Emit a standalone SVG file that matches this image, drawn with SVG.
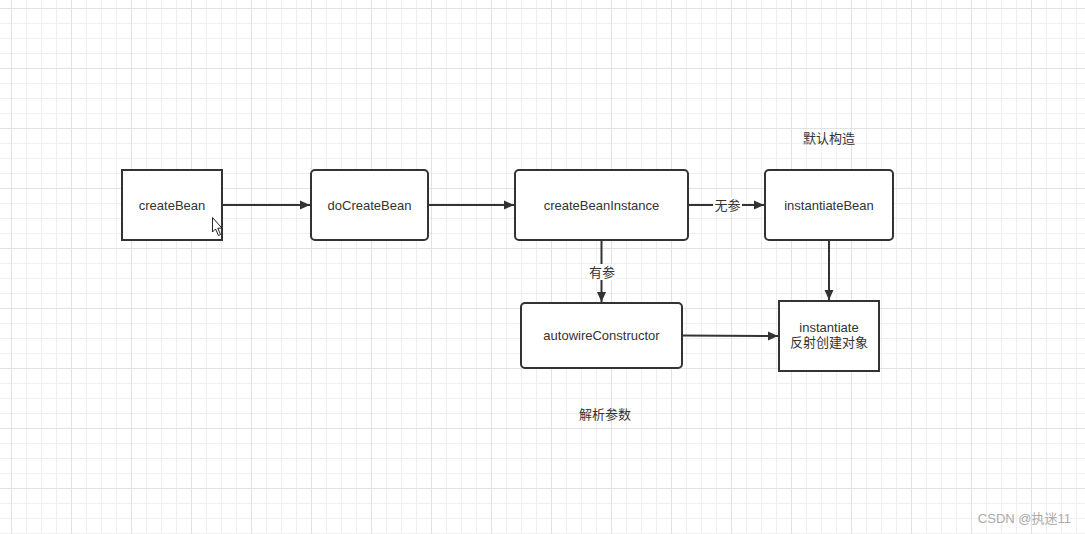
<svg xmlns="http://www.w3.org/2000/svg" width="1085" height="534" viewBox="0 0 1085 534">
<defs>
<pattern id="minor" x="11" y="8" width="15" height="15" patternUnits="userSpaceOnUse">
<path d="M0.5 0 V15 M0 0.5 H15" stroke="#efefef" stroke-width="1" fill="none"/>
</pattern>
<pattern id="major" x="11" y="8" width="60" height="60" patternUnits="userSpaceOnUse">
<path d="M0.5 0 V60 M0 0.5 H60" stroke="#e2e2e2" stroke-width="1" fill="none"/>
</pattern>
<marker id="arr" viewBox="0 0 10 10" refX="10" refY="5" markerWidth="10" markerHeight="10" markerUnits="userSpaceOnUse" orient="auto">
<path d="M0 0.5 L10 5 L0 9.5 Z" fill="#333"/>
</marker>
<style>
.box{fill:#fff;stroke:#333;stroke-width:2}
.lbl{font-family:"Liberation Sans","Noto Sans CJK SC",sans-serif;font-size:13px;fill:#333;text-anchor:middle}
.edge{stroke:#333;stroke-width:2;fill:none;marker-end:url(#arr)}
.elbl{font-family:"Liberation Sans","Noto Sans CJK SC",sans-serif;font-size:13px;fill:#333;text-anchor:middle}
</style>
</defs>
<rect width="1085" height="534" fill="#fff"/>
<rect width="1085" height="534" fill="url(#minor)"/>
<rect width="1085" height="534" fill="url(#major)"/>

<g id="connectors">
<path class="edge" d="M222 205 H310"/>
<path class="edge" d="M428 205 H514"/>
<path class="edge" d="M688 205 H764"/>
<rect x="713" y="197" width="29" height="16" fill="#fff"/>
<text class="elbl" x="727.5" y="209.5">无参</text>
<path class="edge" d="M601.5 240 V302"/>
<rect x="588" y="264" width="28" height="16" fill="#fff"/>
<text class="elbl" x="602" y="276.5">有参</text>
<path class="edge" d="M829 240 V300"/>
<path class="edge" d="M682 335.5 L778 336"/>
</g>

<g id="createBean">
<rect class="box" x="122" y="170" width="100" height="70"/>
<text class="lbl" x="172" y="209.5">createBean</text>
</g>
<g id="doCreateBean">
<rect class="box" x="311" y="170" width="117" height="70" rx="4"/>
<text class="lbl" x="369.5" y="209.5">doCreateBean</text>
</g>
<g id="createBeanInstance">
<rect class="box" x="515" y="170" width="173" height="70" rx="4"/>
<text class="lbl" x="601.5" y="209.5">createBeanInstance</text>
</g>
<g id="instantiateBean">
<rect class="box" x="765" y="170" width="128" height="70" rx="4"/>
<text class="lbl" x="829" y="209.5">instantiateBean</text>
</g>
<g id="autowireConstructor">
<rect class="box" x="521" y="303" width="161" height="65" rx="4"/>
<text class="lbl" x="601.5" y="340">autowireConstructor</text>
</g>
<g id="instantiate">
<rect class="box" x="779" y="301" width="100" height="70"/>
<text class="lbl" x="829" y="332">instantiate</text>
<text class="lbl" x="829" y="347">反射创建对象</text>
</g>

<g id="notes">
<text class="lbl" x="829" y="142.5">默认构造</text>
<text class="lbl" x="605" y="418.5">解析参数</text>
<text x="1071" y="523" font-family="'Liberation Sans','Noto Sans CJK SC',sans-serif" font-size="13" fill="#aaa" text-anchor="end">CSDN @执迷11</text>
</g>

<g id="cursor">
<path d="M212.5 217.5 V232 L215.5 229 L218.5 235.5 L220.5 234.5 L217.8 228.2 L222 228.2 Z" fill="#fff" stroke="#222" stroke-width="1" stroke-linejoin="miter"/>
</g>
</svg>
